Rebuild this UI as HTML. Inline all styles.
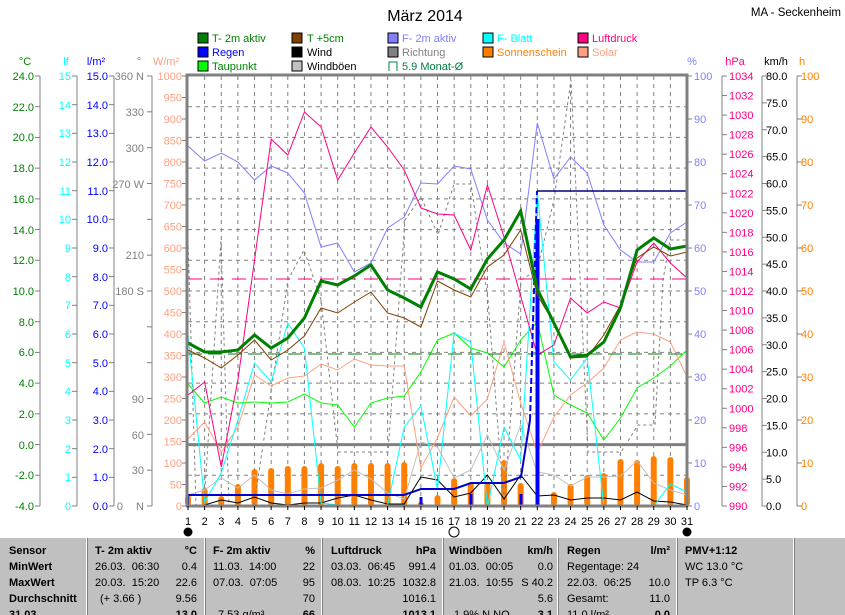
<!DOCTYPE html>
<html><head><meta charset="utf-8"><style>
body{margin:0;background:#fff;width:845px;height:615px;overflow:hidden;font-family:"Liberation Sans",sans-serif}
svg{position:absolute;left:0;top:0}
svg text{font-family:"Liberation Sans",sans-serif;font-size:11px}
#tbl{position:absolute;left:0;top:538px;width:845px;height:77px;background:#c0c0c0;font-size:11px;overflow:hidden}
#tbl div{position:absolute;white-space:pre}
.b{font-weight:bold}.r{text-align:right}
.vl{position:absolute;top:0;width:1px;height:77px;background:#fff;border-right:1px solid #808080}
</style></head><body>
<svg id="s" width="845" height="538" viewBox="0 0 845 538">
<text x="425" y="21" text-anchor="middle" style="font-size:16px">März 2014</text>
<text x="841" y="16" text-anchor="end" style="font-size:11.5px">MA - Seckenheim</text>
<g style="font-size:12px">
<rect x="198" y="33" width="10" height="10" fill="#008000" stroke="#000"/><text x="212" y="42" fill="#008000">T- 2m aktiv</text>
<rect x="198" y="47" width="10" height="10" fill="#0000ff" stroke="#000"/><text x="212" y="56" fill="#0000ff">Regen</text>
<rect x="198" y="61" width="10" height="10" fill="#00ff00" stroke="#000"/><text x="212" y="70" fill="#008000">Taupunkt</text>
<rect x="292" y="33" width="10" height="10" fill="#804000" stroke="#000"/><text x="307" y="42" fill="#008000">T +5cm</text>
<rect x="292" y="47" width="10" height="10" fill="#000" stroke="#000"/><text x="307" y="56" fill="#000">Wind</text>
<rect x="292" y="61" width="10" height="10" fill="#c0c0c0" stroke="#000"/><text x="307" y="70" fill="#000">Windböen</text>
<rect x="388" y="33" width="10" height="10" fill="#8080ff" stroke="#000"/><text x="402" y="42" fill="#8080ff">F- 2m aktiv</text>
<rect x="388" y="47" width="10" height="10" fill="#808080" stroke="#000"/><text x="402" y="56" fill="#808080">Richtung</text>
<path d="M389 71 V62 H397 V71" fill="none" stroke="#008040"/><text x="402" y="70" fill="#008040">5.9 Monat-Ø</text>
<rect x="483" y="33" width="10" height="10" fill="#00ffff" stroke="#000"/><text x="497" y="42" fill="#00ffff">F- Blatt</text>
<rect x="483" y="47" width="10" height="10" fill="#ff8000" stroke="#000"/><text x="497" y="56" fill="#ff8000">Sonnenschein</text>
<rect x="578" y="33" width="10" height="10" fill="#ff0080" stroke="#000"/><text x="592" y="42" fill="#ff0080">Luftdruck</text>
<rect x="578" y="47" width="10" height="10" fill="#ffa080" stroke="#000"/><text x="592" y="56" fill="#ffa080">Solar</text>
</g>
<g style="font-size:12px">
<text x="25" y="65" text-anchor="middle" fill="#008000">°C</text>
<text x="66" y="65" text-anchor="middle" fill="#00ffff">lf</text>
<text x="96" y="65" text-anchor="middle" fill="#0000ff">l/m²</text>
<text x="139" y="65" text-anchor="middle" fill="#808080">°</text>
<text x="166" y="65" text-anchor="middle" fill="#ffa080">W/m²</text>
<text x="692" y="65" text-anchor="middle" fill="#8080ff">%</text>
<text x="735" y="65" text-anchor="middle" fill="#ff0080">hPa</text>
<text x="776" y="65" text-anchor="middle" fill="#000">km/h</text>
<text x="802" y="65" text-anchor="middle" fill="#ff8000">h</text>
</g>
<g text-anchor="end" fill="#008000">
<text x="34" y="80">24.0</text><text x="34" y="111">22.0</text><text x="34" y="141">20.0</text><text x="34" y="172">18.0</text><text x="34" y="203">16.0</text><text x="34" y="234">14.0</text><text x="34" y="264">12.0</text><text x="34" y="295">10.0</text><text x="34" y="326">8.0</text><text x="34" y="356">6.0</text><text x="34" y="387">4.0</text><text x="34" y="418">2.0</text><text x="34" y="449">0.0</text><text x="34" y="479">-2.0</text><text x="34" y="510">-4.0</text>
</g>
<g text-anchor="end" fill="#00ffff">
<text x="71" y="80">15</text><text x="71" y="109">14</text><text x="71" y="137">13</text><text x="71" y="166">12</text><text x="71" y="195">11</text><text x="71" y="223">10</text><text x="71" y="252">9</text><text x="71" y="281">8</text><text x="71" y="309">7</text><text x="71" y="338">6</text><text x="71" y="367">5</text><text x="71" y="395">4</text><text x="71" y="424">3</text><text x="71" y="453">2</text><text x="71" y="481">1</text><text x="71" y="510">0</text>
</g>
<g text-anchor="end" fill="#0000ff">
<text x="108" y="80">15.0</text><text x="108" y="109">14.0</text><text x="108" y="137">13.0</text><text x="108" y="166">12.0</text><text x="108" y="195">11.0</text><text x="108" y="223">10.0</text><text x="108" y="252">9.0</text><text x="108" y="281">8.0</text><text x="108" y="309">7.0</text><text x="108" y="338">6.0</text><text x="108" y="367">5.0</text><text x="108" y="395">4.0</text><text x="108" y="424">3.0</text><text x="108" y="453">2.0</text><text x="108" y="481">1.0</text><text x="108" y="510">0.0</text>
</g>
<g text-anchor="end" fill="#808080">
<text x="144" y="80">360 N</text><text x="144" y="116">330</text><text x="144" y="152">300</text><text x="144" y="188">270 W</text><text x="144" y="259">210</text><text x="144" y="295">180 S</text><text x="144" y="403">90</text><text x="144" y="439">60</text><text x="144" y="474">30</text><text x="144" y="510">N</text><text x="123" y="510">0</text>
</g>
<g text-anchor="end" fill="#ffa080" id="wm"></g>
<g fill="#8080ff" id="pc"></g>
<g fill="#ff0080" id="hp"></g>
<g fill="#000" id="kmh"></g>
<g fill="#ff8000" id="hh"></g>
<g id="axes" stroke="#808080" fill="none"></g>
<g id="plot"></g>
<g id="days" text-anchor="middle" style="font-size:12px"></g>
<circle cx="188" cy="532" r="4.5" fill="#000"/>
<circle cx="454" cy="532" r="5" fill="#fff" stroke="#000"/>
<circle cx="687" cy="532" r="4.5" fill="#000"/>
</svg>
<div id="tbl">
<div class="vl" style="left:86px"></div><div class="vl" style="left:204px"></div><div class="vl" style="left:321px"></div><div class="vl" style="left:442px"></div><div class="vl" style="left:557px"></div><div class="vl" style="left:676px"></div><div class="vl" style="left:793px"></div>
<div class="b" style="left:9px;top:7px">Sensor</div><div class="b" style="left:9px;top:23px">MinWert</div><div class="b" style="left:9px;top:39px">MaxWert</div><div class="b" style="left:9px;top:55px">Durchschnitt</div><div class="b" style="left:9px;top:71px">31.03.</div>
<div class="b" style="left:95px;top:7px">T- 2m aktiv</div><div class="b r" style="right:648px;top:7px">°C</div>
<div style="left:95px;top:23px">26.03.  06:30</div><div class="r" style="right:648px;top:23px">0.4</div>
<div style="left:95px;top:39px">20.03.  15:20</div><div class="r" style="right:648px;top:39px">22.6</div>
<div style="left:100px;top:55px">(+ 3.66 )</div><div class="r" style="right:648px;top:55px">9.56</div>
<div class="b r" style="right:648px;top:71px">13.0</div>
<div class="b" style="left:213px;top:7px">F- 2m aktiv</div><div class="b r" style="right:530px;top:7px">%</div>
<div style="left:213px;top:23px">11.03.  14:00</div><div class="r" style="right:530px;top:23px">22</div>
<div style="left:213px;top:39px">07.03.  07:05</div><div class="r" style="right:530px;top:39px">95</div>
<div class="r" style="right:530px;top:55px">70</div>
<div style="left:218px;top:71px">7.53 g/m³</div><div class="b r" style="right:530px;top:71px">66</div>
<div class="b" style="left:331px;top:7px">Luftdruck</div><div class="b r" style="right:409px;top:7px">hPa</div>
<div style="left:331px;top:23px">03.03.  06:45</div><div class="r" style="right:409px;top:23px">991.4</div>
<div style="left:331px;top:39px">08.03.  10:25</div><div class="r" style="right:409px;top:39px">1032.8</div>
<div class="r" style="right:409px;top:55px">1016.1</div>
<div class="b r" style="right:409px;top:71px">1013.1</div>
<div class="b" style="left:449px;top:7px">Windböen</div><div class="b r" style="right:292px;top:7px">km/h</div>
<div style="left:449px;top:23px">01.03.  00:05</div><div class="r" style="right:292px;top:23px">0.0</div>
<div style="left:449px;top:39px">21.03.  10:55</div><div class="r" style="right:292px;top:39px">S 40.2</div>
<div class="r" style="right:292px;top:55px">5.6</div>
<div style="left:454px;top:71px">1.9% N NO</div><div class="b r" style="right:292px;top:71px">3.1</div>
<div class="b" style="left:567px;top:7px">Regen</div><div class="b r" style="right:175px;top:7px">l/m²</div>
<div style="left:567px;top:23px">Regentage: 24</div>
<div style="left:567px;top:39px">22.03.  06:25</div><div class="r" style="right:175px;top:39px">10.0</div>
<div style="left:567px;top:55px">Gesamt:</div><div class="r" style="right:175px;top:55px">11.0</div>
<div style="left:567px;top:71px">11.0 l/m²</div><div class="b r" style="right:175px;top:71px">0.0</div>
<div class="b" style="left:685px;top:7px">PMV+1:12</div>
<div style="left:685px;top:23px">WC 13.0 °C</div>
<div style="left:685px;top:39px">TP 6.3 °C</div>
</div>
<script>
var NS="http://www.w3.org/2000/svg";
function el(p,t,a,txt){var e=document.createElementNS(NS,t);for(var k in a)e.setAttribute(k,a[k]);if(txt!=null)e.textContent=txt;document.getElementById(p).appendChild(e);return e;}
var X=function(d){return 188+(d-1)*499/30;};
for(var k=0;k<=20;k++)el("wm","text",{x:182,y:76+21.5*k+4},String(1000-50*k));
for(var k=0;k<=10;k++)el("pc","text",{x:694,y:76+43*k+4},String(100-10*k));
for(var k=0;k<=22;k++)el("hp","text",{x:729,y:76+430/22*k+4},String(1034-2*k));
for(var k=0;k<=16;k++)el("kmh","text",{x:766,y:76+26.875*k+4},(80-5*k).toFixed(1));
for(var k=0;k<=10;k++)el("hh","text",{x:801,y:76+43*k+4},String(100-10*k));
[[40,30.714,15],[77,28.667,16],[114,28.667,16],[152,35.833,13],[187,21.5,21]].forEach(function(a){
 el("axes","line",{x1:a[0],y1:76,x2:a[0],y2:506});
 for(var k=0;k<a[2];k++){var y=76+a[1]*k;el("axes","line",{x1:a[0]-5,y1:y,x2:a[0],y2:y});}
});
[[722,430/22,23],[762,26.875,17],[797,43,11]].forEach(function(a){
 el("axes","line",{x1:a[0],y1:76,x2:a[0],y2:506});
 for(var k=0;k<a[2];k++){var y=76+a[1]*k;el("axes","line",{x1:a[0],y1:y,x2:a[0]+5,y2:y});}
});
for(var k=0;k<=10;k++){var y=76+43*k;el("axes","line",{x1:687,y1:y,x2:692,y2:y});}
for(var k=1;k<14;k++){var y=76+30.714*k;el("plot","line",{x1:188,y1:y,x2:687,y2:y,stroke:"#808080","stroke-dasharray":"4,4"});}
for(var d=2;d<31;d++){el("plot","line",{x1:X(d),y1:76,x2:X(d),y2:506,stroke:"#808080","stroke-dasharray":"4,4"});}
el("plot","line",{x1:188,y1:444.6,x2:687,y2:444.6,stroke:"#808080","stroke-width":3});
var sun=[495,488,496,484,469,468,466,466,463,466,463,463,463,462,502,495,478,482,482,460,483,504,492,484,475,473,459,460,456,457,477];
sun.forEach(function(y,i){var x=X(i+1);el("plot","rect",{x:x-3,y:y,width:6,height:506-y,rx:3,fill:"#ff8000"});});
function pl(ys,col,w,dash){var pts=ys.map(function(y,i){return X(i+1)+","+y;}).join(" ");var a={points:pts,fill:"none",stroke:col,"stroke-width":w||1};if(dash)a["stroke-dasharray"]=dash;el("plot","polyline",a);}
function pp(pts,col,w,dash){var a={points:pts.map(function(p){return p[0]+","+p[1];}).join(" "),fill:"none",stroke:col,"stroke-width":w||1};if(dash)a["stroke-dasharray"]=dash;el("plot","polyline",a);}
pp([[188,240],[196,505],[204,505],[221,240],[229,505],[254,505],[260,465],[288,280],[304,250],[321,300],[338,452],[388,452],[405,220],[421,197],[438,235],[454,184],[471,184],[488,300],[504,505],[521,280],[537,270],[554,200],[571,80],[588,452],[621,452],[638,425],[655,425],[663,280],[670,240],[687,240]],"#808080",1,"3,3");
pl([495,490,478,488,475,490,494,489,488,480,470,479,493,499,442,447,478,470,435,470,425,472,475,486,477,477,476,461,483,490,495],"#c0c0c0");
pl([505,505,500,503,497,503,505,503,503,498,495,500,504,504,477,480,497,493,475,499,475,496,495,500,498,498,500,492,501,502,505],"#000");
pl([384,403,397,403,402,403,402,394,403,405,427,403,398,396,372,340,333,348,353,367,340,322,395,405,413,440,418,388,378,366,350],"#00ff00");
pl([439,422,452,427,375,386,378,376,364,370,359,365,366,366,468,438,397,416,399,342,403,453,417,395,383,368,340,332,334,342,377],"#ffa080");
pl([335,502,473,420,363,382,323,348,503,505,505,505,505,427,406,489,333,342,507,427,460,192,362,380,358,506,506,506,506,484,492],"#00ffff");
pl([146,161,153,162,180,166,173,193,247,243,272,263,228,217,183,184,166,169,220,243,254,123,179,157,173,225,250,262,262,233,222],"#8080ff");
pl([395,382,467,380,260,139,155,112,127,180,153,127,147,170,208,214,215,250,185,237,296,355,345,298,313,302,308,262,243,263,278],"#ff0080");
el("plot","line",{x1:188,y1:279,x2:687,y2:279,stroke:"#ff0080","stroke-dasharray":"14,8"});
el("plot","line",{x1:188,y1:354,x2:687,y2:354,stroke:"#008000","stroke-dasharray":"14,6"});
[[421,497],[471,494],[521,494],[537,219]].forEach(function(r){el("plot","rect",{x:r[0]-1.5,y:r[1],width:r[0]==537?4:3,height:506-r[1],fill:"#0000ff"});});
pp([[188,506],[188,495],[404,495],[421,489],[454,489],[471,483],[504,483],[521,477],[530,420]],"#0000d0",2);
pp([[530,420],[537,191]],"#0000ff",2,"6,3");
pp([[537,191],[687,191]],"#000080",1.5);
pl([350,358,368,355,340,360,350,336,308,313,302,292,313,318,327,281,290,297,267,255,230,295,323,358,357,335,305,258,247,256,252],"#804000");
pl([343,352,352,350,335,348,338,318,281,285,276,265,290,298,307,272,279,289,259,240,211,289,323,357,355,342,308,250,238,249,246],"#008000",3);
el("plot","polyline",{points:"187,506 187,75 687,75 687,506",fill:"none",stroke:"#808080","stroke-width":3});
el("plot","line",{x1:186,y1:506,x2:688,y2:506,stroke:"#808080","stroke-width":3});
for(var d=1;d<=31;d++){el("days","text",{x:X(d),y:525},String(d));el("plot","line",{x1:X(d),y1:506,x2:X(d),y2:510,stroke:"#000"});}
</script>
</body></html>
